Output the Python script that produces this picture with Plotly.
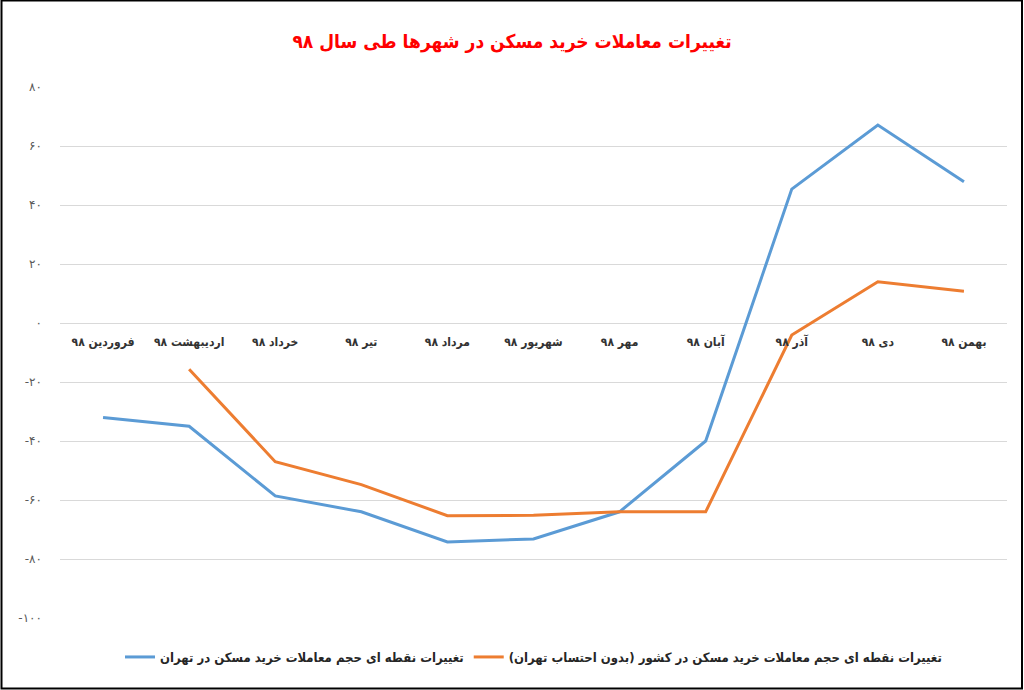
import plotly.graph_objects as go

months = ["فروردین ۹۸", "اردیبهشت ۹۸", "خرداد ۹۸", "تیر ۹۸", "مرداد ۹۸", "شهریور ۹۸",
          "مهر ۹۸", "آبان ۹۸", "آذر ۹۸", "دی ۹۸", "بهمن ۹۸"]
tehran = [-32, -35, -58.6, -64, -74.2, -73.2, -64, -40, 45.4, 67.1, 47.9]
country = [None, -15.7, -47, -54.8, -65.3, -65.2, -64, -64, -4.1, 14, 10.8]

name_tehran = "تغییرات نقطه ای حجم معاملات خرید مسکن در تهران"
name_country = "تغییرات نقطه ای حجم معاملات خرید مسکن در کشور (بدون احتساب تهران)"
title_text = "تغییرات معاملات خرید مسکن در شهرها طی سال ۹۸"

y_vals = [80, 60, 40, 20, 0, -20, -40, -60, -80, -100]
persian = str.maketrans("0123456789", "۰۱۲۳۴۵۶۷۸۹")
y_text = [str(v).translate(persian) for v in y_vals]

y_min, y_max = -100, 80

fig = go.Figure()
fig.add_trace(go.Scatter(x=months, y=tehran, mode="lines", name="<b>" + name_tehran + "</b>",
                         line=dict(color="#5B9BD5", width=3)))
fig.add_trace(go.Scatter(x=months, y=country, mode="lines", name="<b>" + name_country + "</b>",
                         line=dict(color="#ED7D31", width=3)))

W, H = 1024, 690
ml, mr, mt, mb = 60, 17, 87, 72
pw, ph = W - ml - mr, H - mt - mb

fig.update_layout(
    width=W, height=H,
    margin=dict(l=ml, r=mr, t=mt, b=mb),
    paper_bgcolor="white", plot_bgcolor="white",
    font=dict(family="DejaVu Sans", color="#404040"),
    title=dict(text="<b>" + title_text + "</b>", x=0.5, xanchor="center",
               y=1 - 41 / H, yanchor="middle",
               font=dict(size=19, color="#FF0000", family="DejaVu Sans Condensed")),
    showlegend=True,
    legend=dict(orientation="h", x=0.5, xanchor="center",
                y=-(657 - (mt + ph)) / ph, yanchor="middle",
                font=dict(size=13, color="#262626", family="DejaVu Sans Condensed"),
                itemwidth=30),
    xaxis=dict(type="category", range=[-0.5, len(months) - 0.5],
               tickvals=months, ticktext=["<b>" + m + "</b>" for m in months],
               showgrid=False, showline=False, zeroline=False, ticks="",
               anchor="free", position=(0 - y_min) / (y_max - y_min),
               ticklabelstandoff=10,
               tickfont=dict(size=12, color="#333333", family="DejaVu Sans Condensed")),
    yaxis=dict(range=[y_min, y_max], tickvals=y_vals, ticktext=y_text,
               showgrid=True, gridcolor="#D9D9D9", gridwidth=1,
               zeroline=False, showline=False, ticks="",
               ticklabelstandoff=17,
               tickfont=dict(size=12, color="#595959")),
    shapes=[dict(type="rect", xref="paper", yref="paper",
                 x0=-(ml - 1.5) / pw, x1=1 + (mr - 2) / pw,
                 y0=-(mb - 1.5) / ph, y1=1 + (mt - 0.5) / ph,
                 line=dict(color="black", width=2), fillcolor="rgba(0,0,0,0)",
                 layer="above")],
)

fig.write_html("out.html", config={"displayModeBar": False},
               post_script="document.body.style.margin='0';document.body.style.padding='0';")
